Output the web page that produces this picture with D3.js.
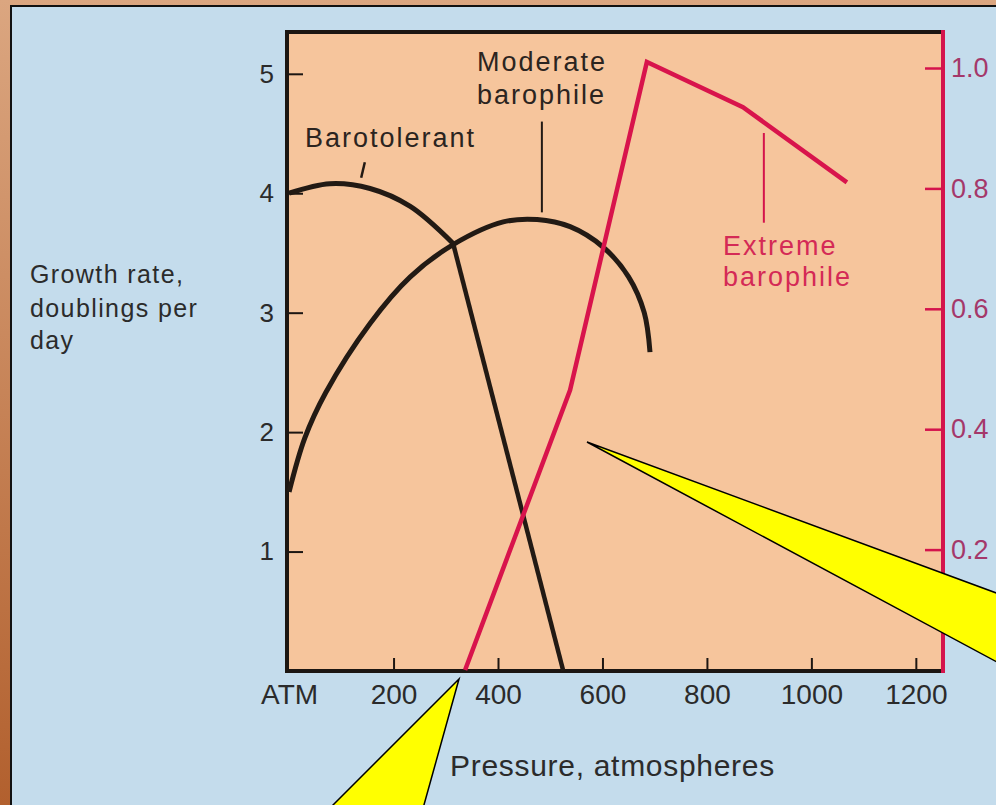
<!DOCTYPE html>
<html>
<head>
<meta charset="utf-8">
<script src="https://cdn.jsdelivr.net/npm/d3@7"></script>
<style>
  body { margin: 0; overflow: hidden; }
  svg { display: block; font-family: "Liberation Sans", Arial, sans-serif; }
</style>
</head>
<body>
<div id="chart"></div>
<script>
// values (pressure in atm, growth rate in doublings per day)
var pressureTicks = [0, 200, 400, 600, 800, 1000, 1200];
var leftTicks = [1, 2, 3, 4, 5];
var rightTicks = [0.2, 0.4, 0.6, 0.8, 1.0];

var barotolerantArc = [[0, 4.0], [78, 4.08], [155, 4.04], [232, 3.89], [314, 3.58]];
var barotolerantDrop = [[314, 3.58], [525, 0]];

var moderate = [[0, 1.5], [30, 1.95], [70, 2.33], [155, 2.91], [232, 3.30],
  [314, 3.57], [410, 3.76], [475, 3.78], [538, 3.72], [601, 3.55], [650, 3.30],
  [680, 3.00], [691, 2.67]];

// extreme barophile is read against the right hand axis
var extreme = [[337, 0], [538, 0.465], [685, 1.01], [869, 0.935], [1068, 0.81]];

// set the dimensions of the page and the plot box
var W = 996, H = 805;
var box = {left: 287, top: 32, right: 943, bottom: 671};

var svg = d3.select("#chart")
  .append("svg")
    .attr("width", W)
    .attr("height", H);

var defs = svg.append("defs");
var grad = defs.append("linearGradient")
    .attr("id", "frame")
    .attr("x1", 0).attr("y1", 0).attr("x2", 0).attr("y2", 1);
grad.append("stop").attr("offset", "0%").attr("stop-color", "#dba680");
grad.append("stop").attr("offset", "100%").attr("stop-color", "#b2602e");

// frame, thin black rule and blue page
svg.append("rect").attr("width", W).attr("height", H).attr("fill", "url(#frame)");
svg.append("rect").attr("x", 10).attr("y", 5).attr("width", W).attr("height", H).attr("fill", "#111");
svg.append("rect").attr("x", 12).attr("y", 7).attr("width", W).attr("height", H).attr("fill", "#c4dcec");

// scales
var x = d3.scaleLinear().domain([-4, 1252]).range([box.left, box.right]);
var y = d3.scaleLinear().domain([0, 5.35]).range([box.bottom, box.top]);
var yR = d3.scaleLinear().domain([0, 1]).range([670, 68]);

// plot background
svg.append("rect")
  .attr("x", box.left).attr("y", box.top)
  .attr("width", box.right - box.left).attr("height", box.bottom - box.top)
  .attr("fill", "#f6c59c");

// left axis
var yAxis = svg.append("g")
  .attr("transform", "translate(" + box.left + ",0)")
  .call(d3.axisLeft(y).tickValues(leftTicks).tickFormat(d3.format("d"))
    .tickSize(-16).tickSizeOuter(0).tickPadding(13));

// right axis
var yAxisR = svg.append("g")
  .attr("transform", "translate(" + box.right + ",0)")
  .call(d3.axisRight(yR).tickValues(rightTicks).tickFormat(d3.format(".1f"))
    .tickSize(-18).tickSizeOuter(0).tickPadding(8));

// bottom axis
var xAxis = svg.append("g")
  .attr("transform", "translate(0," + box.bottom + ")")
  .call(d3.axisBottom(x).tickValues(pressureTicks)
    .tickFormat(d => d === 0 ? "ATM" : d)
    .tickSize(-13).tickSizeOuter(0).tickPadding(13));

[yAxis, yAxisR, xAxis].forEach(g => g.select(".domain").remove());
xAxis.selectAll(".tick").filter(d => d === 0).select("line").remove();

yAxis.selectAll("line").attr("stroke", "#1c1612").attr("stroke-width", 2);
xAxis.selectAll("line").attr("stroke", "#1c1612").attr("stroke-width", 2);
yAxisR.selectAll("line").attr("stroke", "#d4144c").attr("stroke-width", 2.5);

yAxis.selectAll("text").style("font-size", "26px").attr("fill", "#2b2b2b");
xAxis.selectAll("text").style("font-size", "28px").attr("fill", "#2b2b2b");
yAxisR.selectAll("text").style("font-size", "27px").attr("fill", "#a4386a");

// frame lines of the plot box
svg.append("path")
  .attr("d", "M" + box.right + "," + box.top + "H" + box.left + "V" + box.bottom + "H" + box.right)
  .attr("fill", "none")
  .attr("stroke", "#1c1612")
  .attr("stroke-width", 4);
svg.append("line")
  .attr("x1", box.right).attr("x2", box.right)
  .attr("y1", box.top - 2).attr("y2", box.bottom + 2)
  .attr("stroke", "#d4144c")
  .attr("stroke-width", 4);

// curves
var smooth = d3.line().x(d => x(d[0])).y(d => y(d[1])).curve(d3.curveCatmullRom.alpha(0.5));
var straight = d3.line().x(d => x(d[0])).y(d => y(d[1]));
var straightR = d3.line().x(d => x(d[0])).y(d => yR(d[1]));

svg.append("path").datum(moderate)
  .attr("d", smooth).attr("fill", "none")
  .attr("stroke", "#221a14").attr("stroke-width", 5)
  .attr("stroke-linecap", "butt");

svg.append("path").datum(barotolerantArc)
  .attr("d", smooth).attr("fill", "none")
  .attr("stroke", "#221a14").attr("stroke-width", 5);
svg.append("path").datum(barotolerantDrop)
  .attr("d", straight).attr("fill", "none")
  .attr("stroke", "#221a14").attr("stroke-width", 4.5);

svg.append("path").datum(extreme)
  .attr("d", straightR).attr("fill", "none")
  .attr("stroke", "#d8144c").attr("stroke-width", 4.5)
  .attr("stroke-linejoin", "miter");

// labels and leader lines
function label(txt, px, py, color, size, ls) {
  return svg.append("text")
    .attr("x", px).attr("y", py)
    .style("font-size", size + "px")
    .style("letter-spacing", ls + "px")
    .attr("fill", color)
    .text(txt);
}
label("Barotolerant", 305, 147, "#2b2420", 27, 2);
label("Moderate", 477, 71, "#2b2420", 27, 2);
label("barophile", 477, 104, "#2b2420", 27, 2);
label("Extreme", 723, 255, "#d42a56", 27, 2);
label("barophile", 723, 286, "#d42a56", 27, 2);

label("Growth rate,", 30, 283, "#2b2b2b", 25, 1.4);
label("doublings per", 30, 317, "#2b2b2b", 25, 1.4);
label("day", 30, 349, "#2b2b2b", 25, 1.4);
label("Pressure, atmospheres", 450, 776, "#2b2b2b", 30, 0.7);

svg.append("line")
  .attr("x1", x(138)).attr("y1", y(4.13)).attr("x2", x(145)).attr("y2", y(4.26))
  .attr("stroke", "#221a14").attr("stroke-width", 2.5);
svg.append("line")
  .attr("x1", x(484)).attr("y1", y(4.60)).attr("x2", x(484)).attr("y2", y(3.84))
  .attr("stroke", "#221a14").attr("stroke-width", 2);
svg.append("line")
  .attr("x1", x(909)).attr("y1", yR(0.892)).attr("x2", x(909)).attr("y2", yR(0.743))
  .attr("stroke", "#d4144c").attr("stroke-width", 2);

// yellow callout wedges
var wedge = d3.line();
svg.append("path")
  .attr("d", wedge([[587, 442], [1010, 598], [1010, 669]]) + "Z")
  .attr("fill", "#ffff00").attr("stroke", "#000").attr("stroke-width", 1.5)
  .attr("stroke-linejoin", "miter");
svg.append("path")
  .attr("d", wedge([[459, 679], [422, 812], [326, 812]]) + "Z")
  .attr("fill", "#ffff00").attr("stroke", "#000").attr("stroke-width", 1.5)
  .attr("stroke-linejoin", "miter");
</script>
</body>
</html>
